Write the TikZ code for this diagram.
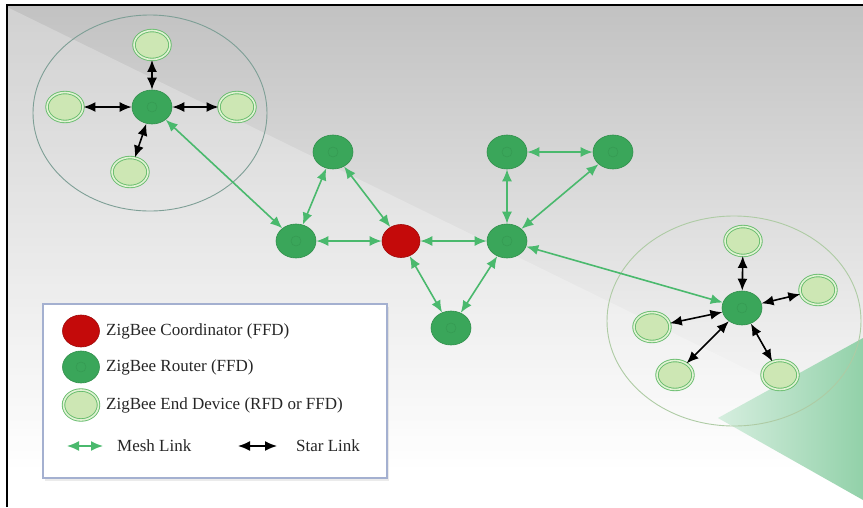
\documentclass[tikz,border=0pt]{standalone}
\usepackage{fontspec}
\setmainfont{Liberation Serif}
\usetikzlibrary{arrows.meta,shapes.geometric}
\definecolor{bgtop}{HTML}{C2C2C2}
\definecolor{routerfill}{HTML}{3AA65A}
\definecolor{routeredge}{HTML}{31904C}
\definecolor{coordfill}{HTML}{C40A0A}
\definecolor{coordedge}{HTML}{A00808}
\definecolor{edfill}{HTML}{CDE7B4}
\definecolor{edring}{HTML}{66BC6C}
\definecolor{edgap}{HTML}{E2F2D4}
\definecolor{meshcol}{HTML}{4AB96D}
\definecolor{ringL}{HTML}{7E9F96}
\definecolor{ringR}{HTML}{AECBA4}
\definecolor{legborder}{HTML}{A4B0D0}
\definecolor{triR}{HTML}{92D1A9}
\definecolor{triL}{HTML}{D6EEDF}
\tikzset{
  router/.style={ellipse, fill=routerfill, draw=routeredge, line width=0.6pt,
    minimum width=40pt, minimum height=34pt, inner sep=0pt,
    path picture={\draw[routeredge, line width=0.6pt, opacity=0.5]
      (path picture bounding box.center) circle (5pt);}},
  coord/.style={ellipse, fill=coordfill, draw=coordedge, line width=0.6pt,
    minimum width=38pt, minimum height=33pt, inner sep=0pt},
  enddev/.style={ellipse, fill=edfill, draw=edring, line width=0.9pt,
    double=edgap, double distance=1.6pt,
    minimum width=36pt, minimum height=29pt, inner sep=0pt},
  tip/.style={Latex[length=12pt,width=10pt]},
  mesh/.style={draw=meshcol, line width=1.6pt, {Latex[length=12pt,width=10pt]}-{Latex[length=12pt,width=10pt]}},
  star/.style={draw=black, line width=1.6pt, {Latex[length=12pt,width=10pt]}-{Latex[length=12pt,width=10pt]}},
  legtext/.style={anchor=west, inner sep=0pt, text=black!85,
    font=\fontsize{17}{20}\selectfont}
}
\begin{document}
\begin{tikzpicture}[x=1pt,y=-1pt]
\useasboundingbox (0,0) rectangle (863,507);
% background
\fill[white] (0,0) rectangle (863,507);
\shade[top color=bgtop, bottom color=white] (7,5) rectangle (863,470);
\fill[white, opacity=0.25] (7,7) -- (863,426) -- (863,507) -- (7,507) -- cycle;
\shade[left color=triL, right color=triR] (863,338) -- (718,418) -- (863,500) -- cycle;
\draw[line width=1.6pt] (7,507) -- (7,5) -- (863,5);
% cluster rings
\draw[ringL, line width=0.9pt] (150,113) ellipse [x radius=117, y radius=98];
\draw[ringR, line width=0.9pt] (734,321) ellipse [x radius=127, y radius=105];
% left cluster
\node[router] (L) at (152,107) {};
\node[enddev] (L1) at (152,45) {};
\node[enddev] (L2) at (65,107) {};
\node[enddev] (L3) at (237,107) {};
\node[enddev] (L4) at (130,172) {};
% right cluster
\node[router] (R) at (742,308) {};
\node[enddev] (R1) at (743,241) {};
\node[enddev] (R2) at (818,290) {};
\node[enddev] (R3) at (652,327) {};
\node[enddev] (R4) at (675,375) {};
\node[enddev] (R5) at (780,375) {};
% mesh
\node[router] (M1) at (333,152) {};
\node[router] (M2) at (296,241) {};
\node[coord]  (C)  at (401,241) {};
\node[router] (M3) at (507,241) {};
\node[router] (M4) at (507,152) {};
\node[router] (M5) at (613,152) {};
\node[router] (M6) at (451,328) {};
% star links
\foreach \e in {L1,L2,L3,L4} \draw[star] (L) -- (\e);
\foreach \e in {R1,R2,R3,R4,R5} \draw[star] (R) -- (\e);
% mesh links
\draw[mesh] (L) -- (M2);
\draw[mesh] (M2) -- (M1);
\draw[mesh] (M1) -- (C);
\draw[mesh] (M2) -- (C);
\draw[mesh] (C) -- (M3);
\draw[mesh] (C) -- (M6);
\draw[mesh] (M6) -- (M3);
\draw[mesh] (M3) -- (M4);
\draw[mesh] (M4) -- (M5);
\draw[mesh] (M5) -- (M3);
\draw[mesh] (M3) -- (R);
% legend
\fill[black, opacity=0.08] (45,307) rectangle (389,481);
\node[draw=legborder, line width=1.2pt, fill=white, minimum width=344pt,
  minimum height=174pt, inner sep=0pt] (leg) at (215,391) {};
\node[coord, minimum width=37pt, minimum height=32pt] (k1) at (81,331) {};
\node[router, minimum width=37pt, minimum height=32pt] (k2) at (81,367) {};
\node[enddev, minimum width=35pt, minimum height=30pt] (k3) at (81,405) {};
\node[legtext] (t1) at (106,331) {ZigBee Coordinator (FFD)};
\node[legtext] (t2) at (106,367) {ZigBee Router (FFD)};
\node[legtext] (t3) at (106,405) {ZigBee End Device (RFD or FFD)};
\coordinate (ma) at (67,446);
\coordinate (mb) at (103,446);
\coordinate (sa) at (238,446);
\coordinate (sb) at (277,446);
\draw[mesh] (ma) -- (mb);
\draw[star] (sa) -- (sb);
\node[legtext] (t4) at (117,446) {Mesh Link};
\node[legtext] (t5) at (296,446) {Star Link};
\end{tikzpicture}
\end{document}
